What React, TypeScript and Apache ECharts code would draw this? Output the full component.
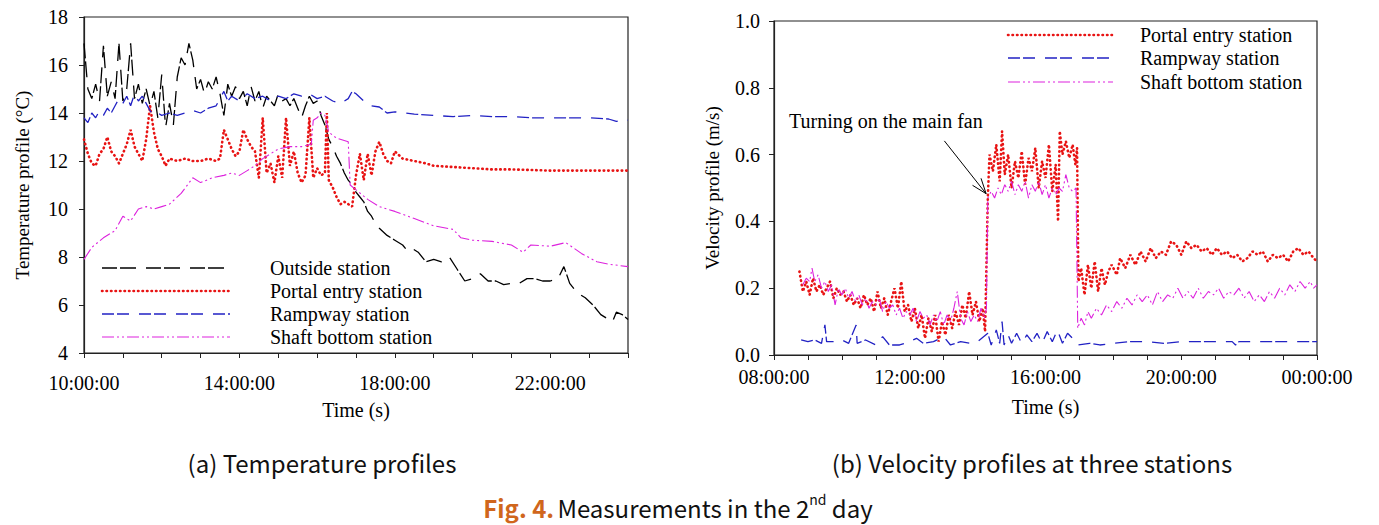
import React, { useEffect, useRef } from "react";
import * as echarts from "echarts";

// ---------- (a) Temperature profiles: [hour, °C] ----------
const outsideTemp: [number, number][] = [
  [10.0, 16.9], [10.1, 15.0], [10.2, 14.6], [10.3, 15.2], [10.4, 14.5], [10.5, 16.8], [10.6, 14.7], [10.7, 15.3],
  [10.8, 14.6], [10.9, 16.9], [11.0, 14.5], [11.1, 15.0], [11.2, 16.9], [11.3, 14.6], [11.4, 15.2], [11.5, 14.4],
  [11.6, 15.0], [11.7, 14.3], [11.8, 14.9], [11.9, 13.8], [12.0, 15.6], [12.1, 13.4], [12.2, 14.4], [12.3, 13.5],
  [12.4, 15.5], [12.5, 16.3], [12.6, 16.0], [12.7, 16.9], [12.8, 16.2], [12.9, 15.0], [13.0, 15.4], [13.1, 14.8],
  [13.2, 15.3], [13.3, 15.0], [13.4, 15.5], [13.5, 14.8], [13.6, 13.9], [13.7, 15.2], [13.8, 14.7], [13.9, 15.1],
  [14.0, 14.6], [14.1, 14.9], [14.2, 14.3], [14.3, 15.1], [14.4, 14.5], [14.5, 14.9], [14.6, 14.2], [14.7, 14.7],
  [14.8, 14.5], [14.9, 14.3], [15.0, 14.8], [15.1, 14.5], [15.2, 14.6], [15.3, 14.3], [15.4, 14.6], [15.5, 14.2],
  [15.6, 13.8], [15.7, 14.3], [15.8, 14.7], [15.9, 14.4], [16.0, 14.5], [16.1, 13.9], [16.2, 13.5], [16.3, 12.9],
  [16.4, 12.6], [16.5, 12.2], [16.6, 11.9], [16.7, 11.5], [16.8, 11.2], [16.9, 11.0], [17.0, 10.7], [17.1, 10.5],
  [17.2, 10.3], [17.3, 9.9], [17.4, 9.7], [17.5, 9.4], [17.6, 9.2], [17.8, 8.9], [18.0, 8.7], [18.2, 8.5],
  [18.3, 8.3], [18.4, 8.4], [18.6, 8.2], [18.8, 7.8], [19.0, 7.9], [19.2, 7.8], [19.4, 8.0], [19.6, 7.5],
  [19.8, 7.0], [20.0, 7.1], [20.2, 7.3], [20.4, 7.0], [20.6, 7.0], [20.8, 6.85], [21.0, 6.9], [21.2, 6.9],
  [21.4, 7.1], [21.6, 7.1], [21.8, 7.0], [22.0, 7.0], [22.2, 7.1], [22.35, 7.6], [22.5, 6.9], [22.7, 6.5],
  [22.9, 6.3], [23.1, 6.0], [23.3, 5.6], [23.5, 5.4], [23.6, 5.3], [23.7, 5.7], [23.85, 5.6], [24.0, 5.4],
];

const portalTemp: [number, number][] = [
  [10.0, 12.9], [10.1, 12.3], [10.2, 11.9], [10.3, 11.8], [10.4, 12.3], [10.5, 12.5], [10.6, 13.0], [10.7, 12.4],
  [10.8, 12.2], [10.9, 11.9], [11.0, 12.3], [11.1, 12.7], [11.2, 13.3], [11.3, 12.6], [11.4, 12.3], [11.5, 12.0],
  [11.6, 12.9], [11.7, 14.3], [11.8, 13.2], [11.9, 12.5], [12.0, 12.2], [12.1, 11.8], [12.2, 12.1], [12.4, 12.0],
  [12.6, 12.1], [12.8, 12.0], [13.0, 12.0], [13.2, 12.1], [13.4, 12.0], [13.5, 12.1], [13.6, 13.3], [13.7, 12.9],
  [13.8, 12.5], [13.9, 12.2], [14.0, 12.4], [14.1, 13.3], [14.2, 12.9], [14.3, 12.6], [14.4, 12.4], [14.5, 11.3],
  [14.6, 13.8], [14.7, 11.5], [14.8, 11.9], [14.9, 11.1], [15.0, 12.2], [15.1, 11.3], [15.2, 13.8], [15.3, 11.8],
  [15.4, 12.4], [15.5, 11.5], [15.6, 11.1], [15.7, 11.4], [15.8, 13.8], [15.9, 11.3], [16.0, 11.7], [16.1, 11.4],
  [16.2, 11.5], [16.25, 14.0], [16.3, 11.2], [16.4, 10.9], [16.5, 10.5], [16.6, 10.2], [16.7, 10.3], [16.8, 10.2],
  [16.9, 10.1], [17.0, 11.4], [17.1, 12.3], [17.2, 11.2], [17.3, 12.3], [17.4, 11.4], [17.5, 12.4], [17.6, 12.8],
  [17.7, 12.3], [17.8, 12.0], [17.9, 11.9], [18.0, 12.4], [18.2, 12.1], [18.5, 12.0], [18.8, 11.9], [19.0, 11.8],
  [19.5, 11.75], [20.0, 11.7], [20.5, 11.65], [21.0, 11.65], [22.0, 11.6], [23.0, 11.6], [24.0, 11.6],
];

const rampwayTemp: [number, number][] = [
  [10.0, 13.8], [10.1, 13.6], [10.2, 14.0], [10.3, 13.8], [10.4, 14.1], [10.5, 13.9], [10.6, 14.2], [10.7, 14.0],
  [10.8, 14.3], [10.9, 14.6], [11.0, 14.4], [11.1, 14.7], [11.2, 14.3], [11.3, 14.8], [11.4, 14.5], [11.5, 14.7],
  [11.6, 14.4], [11.7, 14.1], [11.8, 13.9], [11.9, 14.0], [12.0, 13.9], [12.2, 14.0], [12.4, 13.9], [12.6, 14.0],
  [12.8, 14.1], [13.0, 14.0], [13.2, 14.2], [13.4, 14.3], [13.5, 14.6], [13.6, 14.9], [13.7, 14.5], [13.8, 14.7],
  [14.0, 14.5], [14.2, 14.8], [14.4, 14.6], [14.6, 14.7], [14.8, 14.5], [15.0, 14.7], [15.2, 14.6], [15.4, 14.8],
  [15.6, 14.7], [15.8, 14.8], [16.0, 14.6], [16.2, 14.7], [16.4, 14.5], [16.6, 14.4], [16.8, 14.6], [16.9, 14.9],
  [17.0, 14.8], [17.2, 14.5], [17.4, 14.3], [17.6, 14.25], [17.8, 14.0], [18.0, 14.05], [18.5, 13.95], [19.0, 13.9],
  [19.5, 13.85], [20.0, 13.9], [20.5, 13.85], [21.0, 13.85], [21.5, 13.8], [22.0, 13.8], [22.5, 13.8], [23.0, 13.8],
  [23.5, 13.75], [23.7, 13.65], [24.0, 13.7],
];

const shaftTemp: [number, number][] = [
  [10.0, 7.9], [10.2, 8.4], [10.5, 8.8], [10.8, 9.1], [11.0, 9.7], [11.2, 9.5], [11.4, 10.0], [11.6, 10.1],
  [11.8, 10.0], [12.0, 10.1], [12.2, 10.2], [12.5, 10.65], [12.8, 11.3], [13.0, 11.1], [13.3, 11.3], [13.6, 11.4],
  [13.8, 11.5], [14.0, 11.4], [14.2, 11.6], [14.4, 11.8], [14.6, 12.1], [14.8, 12.3], [15.0, 12.5], [15.3, 12.6],
  [15.6, 12.6], [15.85, 12.7], [15.9, 13.7], [16.0, 13.8], [16.1, 14.0], [16.2, 13.9], [16.3, 13.2], [16.5, 12.95],
  [16.8, 12.8], [16.85, 11.0], [17.0, 10.8], [17.3, 10.4], [17.6, 10.1], [18.0, 9.9], [18.5, 9.6], [19.0, 9.3],
  [19.5, 9.15], [19.7, 8.8], [20.0, 8.7], [20.5, 8.65], [21.0, 8.5], [21.3, 8.2], [21.5, 8.5], [22.0, 8.45],
  [22.4, 8.6], [22.8, 8.15], [23.2, 7.8], [23.5, 7.7], [24.0, 7.6],
];

// ---------- (b) Velocity profiles: [hour, m/s] ----------
const portalVel: [number, number][] = [
  [8.75, 0.25], [8.85, 0.19], [8.95, 0.22], [9.05, 0.18], [9.15, 0.23], [9.25, 0.19], [9.35, 0.21], [9.45, 0.18],
  [9.55, 0.2], [9.65, 0.22], [9.75, 0.17], [9.85, 0.2], [9.95, 0.18], [10.05, 0.19], [10.15, 0.16], [10.25, 0.18],
  [10.35, 0.15], [10.45, 0.17], [10.55, 0.14], [10.65, 0.18], [10.75, 0.15], [10.85, 0.17], [10.95, 0.13], [11.05, 0.19],
  [11.15, 0.14], [11.25, 0.17], [11.35, 0.12], [11.45, 0.16], [11.55, 0.2], [11.65, 0.14], [11.75, 0.22], [11.85, 0.13],
  [11.95, 0.15], [12.05, 0.1], [12.15, 0.14], [12.25, 0.08], [12.35, 0.12], [12.45, 0.05], [12.55, 0.11], [12.65, 0.07],
  [12.75, 0.12], [12.85, 0.04], [12.95, 0.1], [13.05, 0.06], [13.15, 0.12], [13.25, 0.08], [13.35, 0.13], [13.45, 0.09],
  [13.55, 0.15], [13.65, 0.11], [13.75, 0.19], [13.85, 0.12], [13.95, 0.16], [14.05, 0.1], [14.15, 0.14], [14.22, 0.07],
  [14.3, 0.47], [14.35, 0.6], [14.45, 0.55], [14.55, 0.63], [14.65, 0.52], [14.72, 0.67], [14.8, 0.54], [14.9, 0.6],
  [15.0, 0.5], [15.1, 0.58], [15.2, 0.53], [15.3, 0.61], [15.4, 0.51], [15.5, 0.59], [15.6, 0.55], [15.7, 0.62],
  [15.8, 0.5], [15.9, 0.58], [16.0, 0.53], [16.1, 0.63], [16.2, 0.49], [16.3, 0.57], [16.37, 0.4], [16.42, 0.67],
  [16.5, 0.6], [16.6, 0.64], [16.7, 0.59], [16.8, 0.63], [16.88, 0.57], [16.93, 0.62], [16.97, 0.22], [17.05, 0.26],
  [17.15, 0.18], [17.25, 0.27], [17.35, 0.2], [17.45, 0.28], [17.55, 0.19], [17.65, 0.26], [17.75, 0.21], [17.85, 0.25],
  [17.95, 0.27], [18.1, 0.24], [18.2, 0.29], [18.35, 0.26], [18.5, 0.3], [18.65, 0.27], [18.8, 0.31], [18.95, 0.28],
  [19.1, 0.32], [19.25, 0.29], [19.4, 0.31], [19.55, 0.3], [19.7, 0.34], [19.85, 0.33], [20.0, 0.3], [20.15, 0.34],
  [20.3, 0.32], [20.45, 0.33], [20.6, 0.31], [20.75, 0.32], [20.9, 0.3], [21.05, 0.32], [21.2, 0.3], [21.35, 0.31],
  [21.5, 0.29], [21.65, 0.3], [21.8, 0.28], [21.95, 0.29], [22.1, 0.31], [22.25, 0.3], [22.4, 0.31], [22.55, 0.28],
  [22.7, 0.3], [22.85, 0.29], [23.0, 0.3], [23.15, 0.28], [23.3, 0.31], [23.45, 0.32], [23.6, 0.3], [23.75, 0.31],
  [23.9, 0.29], [24.0, 0.28],
];

const rampwayVel: [number, number][] = [
  [8.8, 0.045], [9.0, 0.04], [9.2, 0.045], [9.4, 0.035], [9.5, 0.09], [9.55, 0.04], [9.8, 0.04], [10.0, 0.045],
  [10.2, 0.035], [10.42, 0.09], [10.45, 0.035], [10.7, 0.045], [11.0, 0.03], [11.2, 0.055], [11.4, 0.03], [11.7, 0.03],
  [12.0, 0.04], [12.2, 0.05], [12.4, 0.035], [12.7, 0.04], [13.0, 0.055], [13.2, 0.03], [13.5, 0.04], [13.8, 0.035],
  [14.0, 0.04], [14.3, 0.065], [14.4, 0.03], [14.55, 0.075], [14.65, 0.035], [14.72, 0.1], [14.78, 0.03], [14.9, 0.06],
  [15.0, 0.035], [15.15, 0.065], [15.3, 0.035], [15.45, 0.06], [15.6, 0.04], [15.75, 0.065], [15.9, 0.035], [16.05, 0.07],
  [16.2, 0.04], [16.35, 0.075], [16.5, 0.035], [16.65, 0.065], [16.8, 0.05], [16.95, 0.03], [17.3, 0.035], [17.6, 0.03],
  [18.0, 0.035], [18.5, 0.04], [19.0, 0.04], [19.5, 0.035], [20.0, 0.04], [21.0, 0.04], [21.5, 0.04], [21.6, 0.03],
  [21.7, 0.04], [22.5, 0.04], [23.0, 0.04], [24.0, 0.04],
];

const shaftVel: [number, number][] = [
  [8.85, 0.21], [8.95, 0.23], [9.05, 0.22], [9.12, 0.26], [9.2, 0.22], [9.3, 0.24], [9.4, 0.2], [9.5, 0.22],
  [9.6, 0.19], [9.7, 0.21], [9.8, 0.15], [9.9, 0.2], [10.0, 0.18], [10.1, 0.2], [10.2, 0.17], [10.3, 0.19],
  [10.4, 0.16], [10.5, 0.18], [10.6, 0.15], [10.7, 0.17], [10.8, 0.14], [10.9, 0.16], [11.0, 0.15], [11.1, 0.17],
  [11.2, 0.13], [11.3, 0.16], [11.4, 0.14], [11.5, 0.15], [11.6, 0.12], [11.7, 0.14], [11.8, 0.11], [11.9, 0.13],
  [12.0, 0.12], [12.1, 0.14], [12.2, 0.1], [12.3, 0.13], [12.4, 0.11], [12.5, 0.12], [12.6, 0.09], [12.7, 0.12],
  [12.8, 0.1], [12.9, 0.13], [13.0, 0.09], [13.1, 0.12], [13.2, 0.1], [13.3, 0.14], [13.4, 0.19], [13.5, 0.11],
  [13.6, 0.09], [13.7, 0.13], [13.8, 0.1], [13.9, 0.12], [14.0, 0.1], [14.1, 0.14], [14.2, 0.11], [14.26, 0.14],
  [14.3, 0.47], [14.4, 0.49], [14.5, 0.47], [14.6, 0.5], [14.7, 0.48], [14.8, 0.51], [14.9, 0.49], [15.0, 0.52],
  [15.1, 0.48], [15.2, 0.51], [15.3, 0.49], [15.4, 0.52], [15.5, 0.47], [15.6, 0.51], [15.7, 0.49], [15.8, 0.52],
  [15.9, 0.48], [16.0, 0.51], [16.1, 0.47], [16.2, 0.5], [16.3, 0.48], [16.4, 0.5], [16.5, 0.49], [16.6, 0.54],
  [16.7, 0.5], [16.8, 0.49], [16.9, 0.5], [16.95, 0.08], [17.05, 0.11], [17.15, 0.09], [17.25, 0.13], [17.35, 0.11],
  [17.5, 0.14], [17.65, 0.12], [17.8, 0.15], [17.95, 0.13], [18.1, 0.16], [18.25, 0.14], [18.4, 0.17], [18.55, 0.15],
  [18.7, 0.18], [18.85, 0.16], [19.0, 0.18], [19.15, 0.15], [19.3, 0.19], [19.45, 0.16], [19.6, 0.18], [19.75, 0.17],
  [19.9, 0.2], [20.05, 0.17], [20.2, 0.19], [20.35, 0.17], [20.5, 0.2], [20.65, 0.17], [20.8, 0.19], [20.95, 0.18],
  [21.1, 0.2], [21.25, 0.17], [21.4, 0.19], [21.55, 0.18], [21.7, 0.2], [21.85, 0.17], [22.0, 0.19], [22.15, 0.16],
  [22.3, 0.18], [22.45, 0.16], [22.6, 0.19], [22.75, 0.17], [22.9, 0.2], [23.05, 0.18], [23.2, 0.21], [23.35, 0.19],
  [23.5, 0.22], [23.65, 0.2], [23.8, 0.22], [23.9, 0.2], [24.0, 0.21],
];

// annotation arrow (data coordinates of chart b)
const arrowStart: [number, number] = [13.02, 0.641];
const arrowTip: [number, number] = [14.25, 0.483];
const arrowHeadA: [number, number] = [14.1, 0.529];
const arrowHeadB: [number, number] = [13.85, 0.508];

const tempNames = ["Outside station", "Portal entry station", "Rampway station", "Shaft bottom station"];
const velNames = ["Portal entry station", "Rampway station", "Shaft bottom station"];

const SERIF = "'Liberation Serif', 'Times New Roman', serif";
const SANS = "'Noto Sans CJK KR', 'Noto Sans', sans-serif";

const styles: Record<string, any> = {
  "Outside station": { color: "#000000", width: 1.3, type: [15, 3, 16, 10] },
  "Portal entry station": { color: "#e81414", width: 2.6, type: [0.5, 4], cap: "round" },
  "Rampway station": { color: "#2222c4", width: 1.3, type: [12, 3, 12, 10] },
  "Shaft bottom station": { color: "#dd22dd", width: 1.1, type: [12, 3, 2, 3, 2, 3] },
};

const hh = (v: number) => (v >= 24 ? "00" : String(v).padStart(2, "0")) + ":00:00";

function legendGraphics(names: string[], x0: number, x1: number, tx: number, ys: number[]) {
  const els: any[] = [];
  names.forEach((n, i) => {
    const s = styles[n];
    els.push({
      type: "line",
      shape: { x1: x0, y1: ys[i], x2: x1, y2: ys[i] },
      style: { stroke: s.color, lineWidth: s.width, lineDash: s.type, lineCap: s.cap || "butt" },
      silent: true,
    });
    els.push({
      type: "text",
      x: tx,
      y: ys[i],
      style: { text: n, font: `20px ${SERIF}`, fill: "#000", verticalAlign: "middle" },
      silent: true,
    });
  });
  return els;
}

export default function App() {
  const ref = useRef<HTMLDivElement>(null);
  useEffect(() => {
    const chart = echarts.init(ref.current!, null, { renderer: "svg" });
    const axisLine = { show: true, lineStyle: { color: "#222", width: 1.2 } };
    const axisTick = { show: true, inside: false, length: 5, lineStyle: { color: "#222", width: 1 } };
    const label = { color: "#000", fontFamily: SERIF, fontSize: 20 };
    const nameStyle = { color: "#000", fontFamily: SERIF, fontSize: 19 };

    const mkSeries = (name: string, data: [number, number][], idx: number, extra: any = {}) => ({
      name,
      type: "line",
      xAxisIndex: idx,
      yAxisIndex: idx,
      data,
      showSymbol: false,
      symbol: "none",
      smooth: false,
      lineStyle: { ...styles[name] },
      itemStyle: { color: styles[name].color },
      z: 2,
      ...extra,
    });

    const option: any = {
      animation: false,
      backgroundColor: "#ffffff",
      grid: [
        { left: 84, top: 17, width: 544, height: 336, show: true, borderColor: "#222", borderWidth: 1.2, backgroundColor: "transparent" },
        { left: 774, top: 21, width: 543, height: 334, show: true, borderColor: "#222", borderWidth: 1.2, backgroundColor: "transparent" },
      ],
      xAxis: [
        {
          gridIndex: 0, type: "value", min: 10, max: 24, interval: 1,
          axisLine, axisTick, splitLine: { show: false },
          axisLabel: { ...label, margin: 20, formatter: (v: number) => ((v - 10) % 4 === 0 ? hh(v) : "") },
          name: "Time (s)", nameLocation: "middle", nameGap: 47, nameTextStyle: { ...nameStyle, fontSize: 20 },
        },
        {
          gridIndex: 1, type: "value", min: 8, max: 24, interval: 1,
          axisLine, axisTick, splitLine: { show: false },
          axisLabel: { ...label, margin: 12, formatter: (v: number) => ((v - 8) % 4 === 0 ? hh(v) : "") },
          name: "Time (s)", nameLocation: "middle", nameGap: 42, nameTextStyle: { ...nameStyle, fontSize: 20 },
        },
      ],
      yAxis: [
        {
          gridIndex: 0, type: "value", min: 4, max: 18, interval: 2,
          axisLine, axisTick, splitLine: { show: false },
          axisLabel: { ...label, margin: 16 },
          name: "Temperature profile (°C)", nameLocation: "middle", nameGap: 52, nameTextStyle: nameStyle,
        },
        {
          gridIndex: 1, type: "value", min: 0, max: 1, interval: 0.2,
          axisLine, axisTick, splitLine: { show: false },
          axisLabel: { ...label, margin: 14, formatter: (v: number) => v.toFixed(1) },
          name: "Velocity profile (m/s)", nameLocation: "middle", nameGap: 52, nameTextStyle: nameStyle,
        },
      ],
      series: [
        mkSeries("Outside station", outsideTemp, 0),
        mkSeries("Portal entry station", portalTemp, 0),
        mkSeries("Rampway station", rampwayTemp, 0),
        mkSeries("Shaft bottom station", shaftTemp, 0),
        mkSeries("Portal entry station", portalVel, 1),
        mkSeries("Rampway station", rampwayVel, 1),
        mkSeries("Shaft bottom station", shaftVel, 1, {
          markLine: {
            silent: true,
            symbol: ["none", "none"],
            label: { show: false },
            lineStyle: { color: "#000", type: "solid", width: 1 },
            data: [
              [{ coord: arrowStart }, { coord: arrowTip }],
              [{ coord: arrowHeadA }, { coord: arrowTip }],
              [{ coord: arrowHeadB }, { coord: arrowTip }],
            ],
          },
        }),
      ],
      graphic: [
        ...legendGraphics(tempNames, 102, 230, 270, [268, 291, 314, 337]),
        ...legendGraphics(velNames, 1008, 1113, 1140, [35, 58, 82]),
        {
          type: "text", x: 789, y: 121, silent: true,
          style: { text: "Turning on the main fan", font: `20px ${SERIF}`, fill: "#000", verticalAlign: "middle" },
        },
        {
          type: "text", x: 322, y: 462, silent: true,
          style: { text: "(a) Temperature profiles", font: `24px ${SANS}`, fill: "#111", align: "center", verticalAlign: "middle" },
        },
        {
          type: "text", x: 1032, y: 462, silent: true,
          style: { text: "(b) Velocity profiles at three stations", font: `24px ${SANS}`, fill: "#111", align: "center", verticalAlign: "middle" },
        },
        {
          type: "text", x: 678, y: 507, silent: true,
          style: {
            text: "{f|Fig. 4.} {m|Measurements in the 2}{s|nd}{m| day}",
            align: "center", verticalAlign: "middle",
            rich: {
              f: { fontFamily: SANS, fontSize: 24, fontWeight: "bold", fill: "#d0661c", lineHeight: 30 },
              m: { fontFamily: SANS, fontSize: 24, fill: "#111", lineHeight: 30 },
              s: { fontFamily: SANS, fontSize: 14, fill: "#111", lineHeight: 30, verticalAlign: "top" },
            },
          },
        },
      ],
    };
    chart.setOption(option);
    return () => chart.dispose();
  }, []);
  return <div ref={ref} style={{ position: "absolute", left: 0, top: 0, width: 1379, height: 525, background: "#fff" }} />;
}
